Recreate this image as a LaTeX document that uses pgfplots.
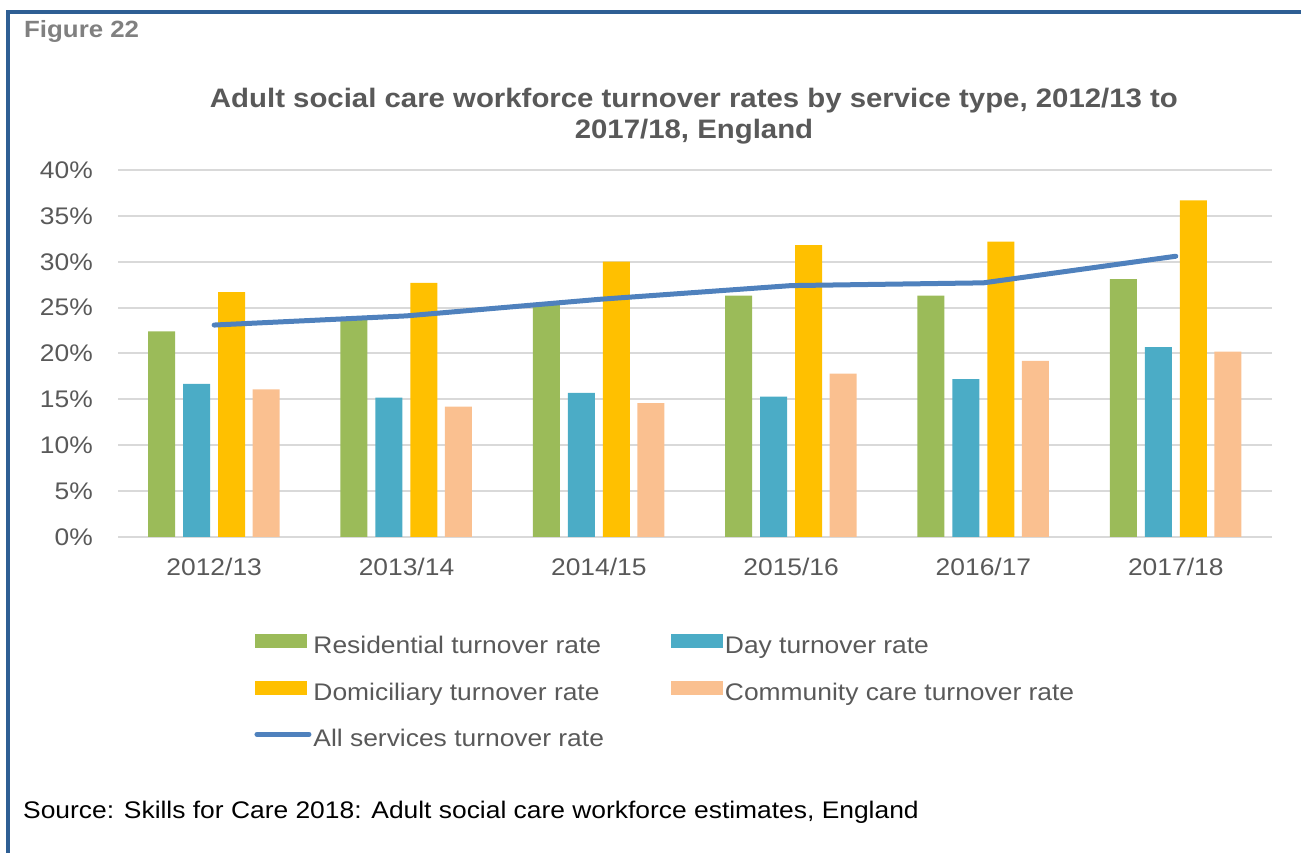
\documentclass[border=0pt]{standalone}
\usepackage{fontspec}
\setmainfont{Liberation Sans}[FakeStretch=1.1]
\usepackage{pgfplots}
\pgfplotsset{compat=1.18}
\definecolor{cres}{HTML}{9BBB59}
\definecolor{cday}{HTML}{4BACC6}
\definecolor{cdom}{HTML}{FFC000}
\definecolor{ccom}{HTML}{FAC090}
\definecolor{call}{HTML}{4F81BD}
\definecolor{cframe}{HTML}{2E5F94}
\definecolor{ctxt}{HTML}{595959}
\definecolor{cfig}{HTML}{808080}
\definecolor{cgrid}{HTML}{D9D9D9}
\begin{document}
\begin{tikzpicture}[x=1pt,y=1pt]
\useasboundingbox (0pt,0pt) rectangle (1301pt,853pt);
\fill[cframe] (6pt,0pt) rectangle (10pt,843pt);
\fill[cframe] (6pt,839pt) rectangle (1301pt,843pt);
\node[anchor=base west, inner sep=0, text=cfig, font=\fontsize{23.5}{28}\selectfont\bfseries] at (24pt,815pt) {Figure 22};
\node[anchor=base west, inner sep=0, text=black, font=\fontsize{24}{28}\selectfont] at (23pt,34pt) {Source: Skills for Care 2018: Adult social care workforce estimates, England};
\node[anchor=base, inner sep=0, text=ctxt, font=\fontsize{26.7}{31.5}\selectfont\bfseries, align=center] at (694pt,714pt) {Adult social care workforce turnover rates by service type, 2012/13 to\\2017/18, England};
\begin{axis}[
  at={(118pt,316pt)}, anchor=south west,
  scale only axis, width=1154pt, height=367pt,
  xmin=-0.5, xmax=5.5, ymin=0, ymax=40,
  axis x line*=bottom, axis y line*=left,
  x axis line style={cgrid, line width=2.5pt},
  y axis line style={draw=none},
  ymajorgrids, grid style={cgrid, line width=2pt},
  major tick length=0pt, tick style={draw=none},
  xtick={0,1,2,3,4,5},
  xticklabels={2012/13,2013/14,2014/15,2015/16,2016/17,2017/18},
  ytick={0,5,10,15,20,25,30,35,40},
  yticklabels={0\%,5\%,10\%,15\%,20\%,25\%,30\%,35\%,40\%},
  ticklabel style={text=ctxt, font=\fontsize{24}{28}\selectfont, inner sep=0pt},
  yticklabel shift=25pt,
  xticklabel shift=21pt,
  legend columns=2,
  legend cell align=left,
  legend style={at={(0.1155,-0.258)}, anchor=north west, draw=none, fill=none,
    font=\fontsize{24}{28}\selectfont, text=ctxt,
    nodes={inner sep=0pt, text height=18pt, text depth=5pt},
    row sep=23pt,
    /tikz/every odd column/.append style={column sep=2pt},
    /tikz/every even column/.append style={column sep=67pt}},
]
\addplot[ybar, bar width=27pt, bar shift=-52.5pt, fill=cres, draw=none,
  legend image code/.code={\fill[cres] (0pt,-1pt) rectangle (52pt,13pt);}]
  coordinates {(0,22.4) (1,23.7) (2,25.3) (3,26.3) (4,26.3) (5,28.1)};
\addlegendentry{Residential turnover rate}
\addplot[ybar, bar width=27pt, bar shift=-17.5pt, fill=cday, draw=none,
  legend image code/.code={\fill[cday] (0pt,-1pt) rectangle (52pt,13pt);}]
  coordinates {(0,16.7) (1,15.2) (2,15.7) (3,15.3) (4,17.2) (5,20.7)};
\addlegendentry{Day turnover rate}
\addplot[ybar, bar width=27pt, bar shift=17.5pt, fill=cdom, draw=none,
  legend image code/.code={\fill[cdom] (0pt,-1pt) rectangle (52pt,13pt);}]
  coordinates {(0,26.7) (1,27.7) (2,30.0) (3,31.8) (4,32.2) (5,36.7)};
\addlegendentry{Domiciliary turnover rate}
\addplot[ybar, bar width=27pt, bar shift=52pt, fill=ccom, draw=none,
  legend image code/.code={\fill[ccom] (0pt,-1pt) rectangle (52pt,13pt);}]
  coordinates {(0,16.1) (1,14.2) (2,14.6) (3,17.8) (4,19.2) (5,20.2)};
\addlegendentry{Community care turnover rate}
\addplot[call, line width=5pt, line cap=round, line join=round, mark=none,
  legend image code/.code={\draw[call, line width=5pt, line cap=round] (2pt,6pt) -- (54pt,6pt);}]
  coordinates {(0,23.1) (1,24.1) (2,25.9) (3,27.4) (4,27.7) (5,30.6)};
\addlegendentry{All services turnover rate}
\end{axis}
\end{tikzpicture}
\end{document}
